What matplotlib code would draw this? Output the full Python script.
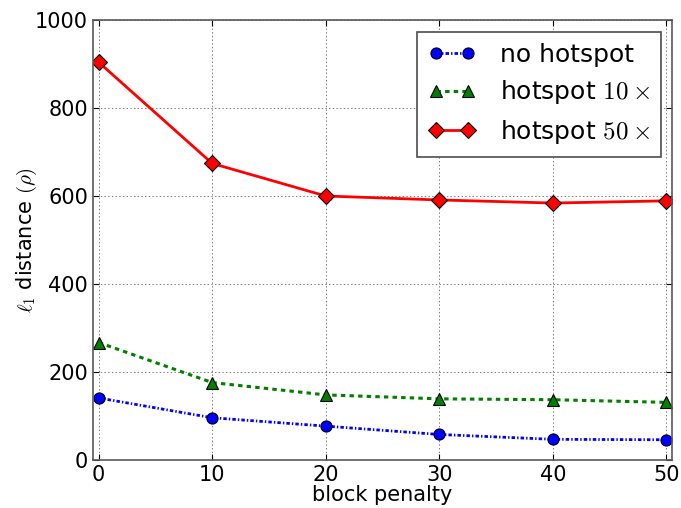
import numpy as np
import matplotlib
matplotlib.use("Agg")
import matplotlib.pyplot as plt

# block penalty sweep
penalty = [0, 10, 20, 30, 40, 50]
no_hotspot = [141, 96, 77, 58, 47, 46]
hotspot_10 = [267, 176, 148, 139, 137, 131]
hotspot_50 = [904, 674, 600, 591, 584, 589]

plt.rcParams['font.size'] = 15
plt.rcParams['mathtext.fontset'] = 'cm'
plt.rcParams['xtick.direction'] = 'in'
plt.rcParams['ytick.direction'] = 'in'
plt.rcParams['xtick.top'] = True
plt.rcParams['ytick.right'] = True
plt.rcParams['lines.scale_dashes'] = False

fig = plt.figure(figsize=(6.81, 5.08), dpi=100)
ax = fig.add_axes([93/681., 48/508., 579/681., 440/508.])

ax.plot(penalty, no_hotspot, 'o-.', color='b', lw=2, ms=8, mec='k', mew=0.8,
        dashes=(2.5, 1.5, 1, 1.5), label='no hotspot')
ax.plot(penalty, hotspot_10, '^--', color='g', lw=2.2, ms=8, mec='k', mew=0.8,
        dashes=(3.2, 3), label=r'hotspot $10\times$')
ax.plot(penalty, hotspot_50, 'D-', color='r', lw=2, ms=8, mec='k', mew=0.8,
        label=r'hotspot $50\times$')

ax.set_xlim(-0.5, 50.5)
ax.set_ylim(0, 1000)
ax.set_xticks(penalty)
ax.set_yticks([0, 200, 400, 600, 800, 1000])
ax.grid(True, color='k', linestyle=':', linewidth=0.6, alpha=0.6)
ax.tick_params(length=4, width=0.8)
for s in ax.spines.values():
    s.set_color('0.35')
    s.set_linewidth(1.2)

ax.set_xlabel('block penalty', labelpad=0)
ax.set_ylabel(r'$\ell_1$ distance $(\rho)$', labelpad=-3)

leg = ax.legend(loc='upper right', bbox_to_anchor=(0.981, 0.973), fancybox=False,
                numpoints=2, borderpad=0.45, labelspacing=0.45, handlelength=1.9,
                handletextpad=0.95, fontsize=18, borderaxespad=0)
leg.get_frame().set_edgecolor('0.3')
leg.get_frame().set_linewidth(1.2)
leg.get_frame().set_alpha(1)

fig.savefig('out.png', dpi=100)
